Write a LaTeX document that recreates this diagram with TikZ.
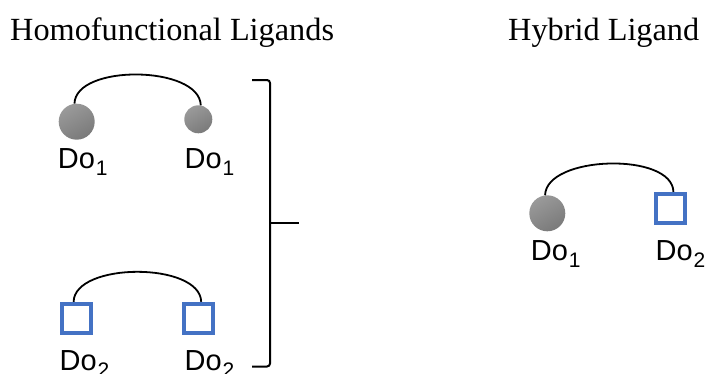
\documentclass[tikz,border=0pt]{standalone}
\usepackage{fontspec}
\setmainfont{Liberation Serif}
\newfontfamily\dofont{Liberation Sans}
\definecolor{sqblue}{HTML}{4472C4}
\definecolor{balllight}{HTML}{9A9A9A}
\definecolor{balldark}{HTML}{7A7A7A}
\newcommand\dosub[1]{\kern0.8pt\raisebox{-7pt}{\fontsize{21}{24}\selectfont #1}}
\begin{document}
\begin{tikzpicture}[x=1pt,y=-1pt,
  ball/.style={circle, inner sep=0pt, minimum size=#1, shading=axis,
    top color=balllight, bottom color=balldark, shading angle=30},
  sq/.style={rectangle, draw=sqblue, line width=4pt, fill=white,
    minimum size=29pt, inner sep=0pt},
  lab/.style={anchor=base west, inner sep=0pt, font=\dofont\fontsize{29}{33}\selectfont},
  title/.style={anchor=base west, inner sep=0pt, font=\fontsize{32.3}{36}\selectfont},
  arc/.style={line width=1.8pt},
  brace/.style={line width=2pt, rounded corners=3pt}]
\useasboundingbox (0,0) rectangle (710,373);
% titles
\node[title] (t1) at (10,40) {Homofunctional Ligands};
\node[title] (t2) at (508,40) {Hybrid Ligand};
% homofunctional Do1
\node[ball=36pt] (a1) at (76.7,121.7) {};
\node[ball=28pt] (a2) at (198.3,119.3) {};
\draw[arc] (a1.97) .. controls +(1,-40) and +(-1,-40) .. (a2.80);
\node[lab] (la1) at (57.7,168) {Do\dosub{1}};
\node[lab] (la2) at (184.5,168) {Do\dosub{1}};
% homofunctional Do2
\node[sq] (b1) at (76.5,318.3) {};
\node[sq] (b2) at (198.3,318.3) {};
\draw[arc] (b1.100) .. controls +(1,-40) and +(-1,-40) .. (b2.80);
\node[lab] (lb1) at (59.5,370) {Do\dosub{2}};
\node[lab] (lb2) at (184.5,370) {Do\dosub{2}};
% bracket
\draw[brace] (252,80) -- (270,80) -- (270,366.5) -- (252,366.5);
\coordinate (bm) at (270,223);
\coordinate (bt) at (299,223);
\draw[line width=2pt] (bm) -- (bt);
% hybrid
\node[ball=36pt] (h1) at (547.3,213.3) {};
\node[sq] (h2) at (670.5,208.3) {};
\draw[arc] (h1.97) .. controls +(1,-40) and +(-1,-40) .. (h2.80);
\node[lab] (lh1) at (530.7,260) {Do\dosub{1}};
\node[lab] (lh2) at (655.5,260) {Do\dosub{2}};
\end{tikzpicture}
\end{document}
